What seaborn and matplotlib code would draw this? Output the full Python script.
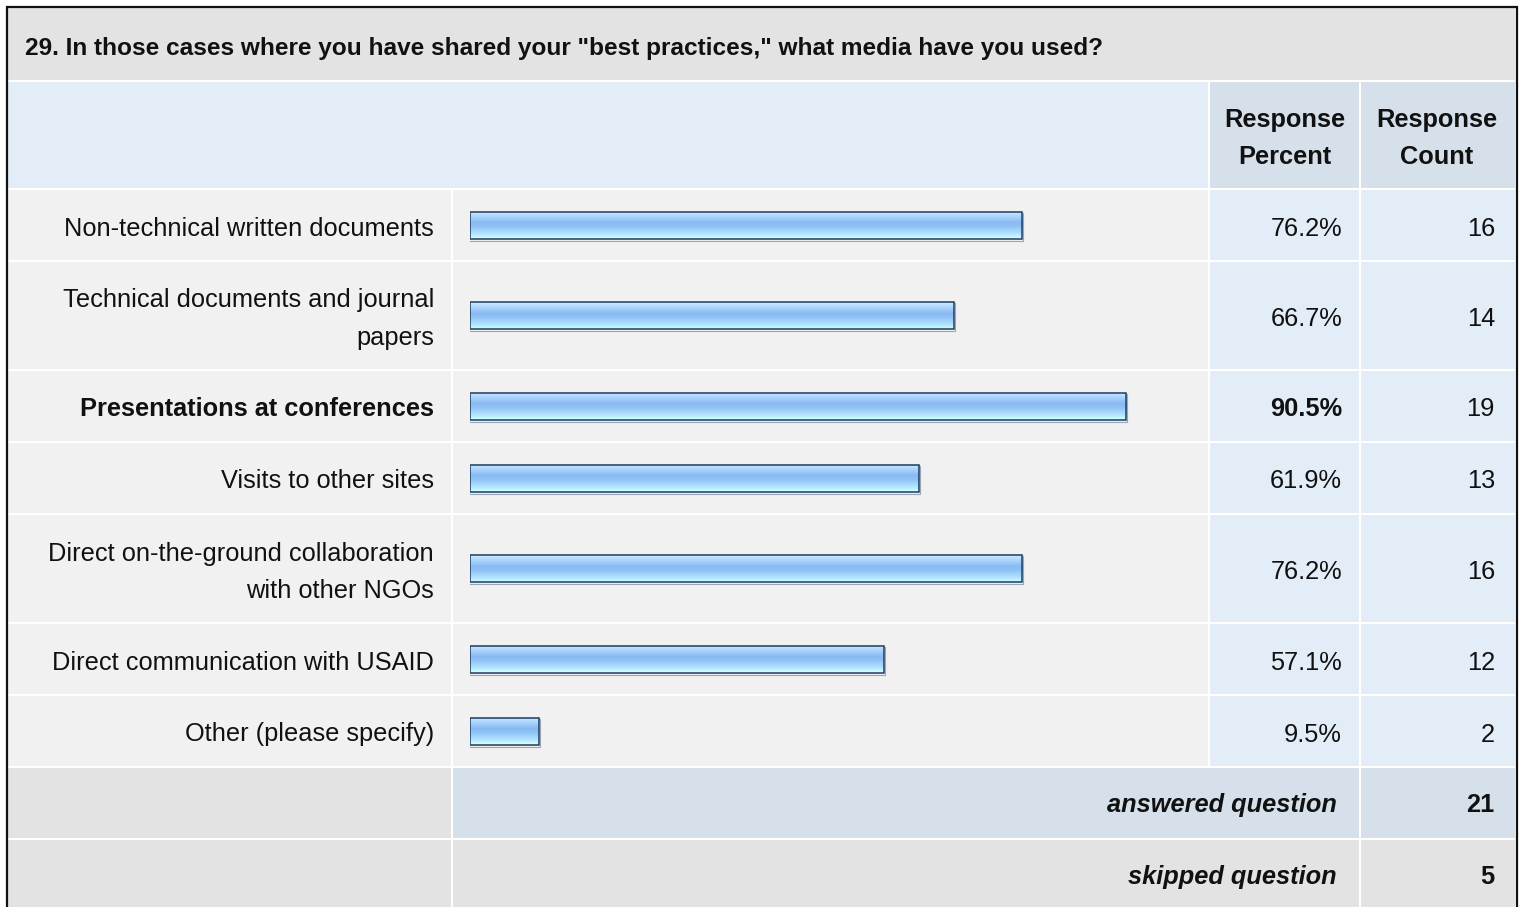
import numpy as np
import pandas as pd
import matplotlib
matplotlib.use('Agg')
import matplotlib.pyplot as plt
import seaborn as sns
from matplotlib.patches import Rectangle
from matplotlib.colors import LinearSegmentedColormap

# data
question = '29. In those cases where you have shared your "best practices," what media have you used?'
answers = ['Non-technical written documents',
           'Technical documents and journal\npapers',
           'Presentations at conferences',
           'Visits to other sites',
           'Direct on-the-ground collaboration\nwith other NGOs',
           'Direct communication with USAID',
           'Other (please specify)']
percent = [76.2, 66.7, 90.5, 61.9, 76.2, 57.1, 9.5]
count = [16, 14, 19, 13, 16, 12, 2]
answered = 21
skipped = 5

sns.set_style('white')
plt.rcParams['font.family'] = ['Liberation Sans', 'DejaVu Sans']

W, H = 1520, 907
fig = plt.figure(figsize=(W / 100, H / 100), dpi=100)
fig.patch.set_facecolor('white')
ax = fig.add_axes([0, 0, 1, 1])
ax.set_xlim(0, W)
ax.set_ylim(H, 0)
ax.axis('off')

GREY = '#e3e3e3'
ROW = '#f1f1f1'
BLUE = '#e3edf7'
BLUE2 = '#d5e0ea'
FS = 18.3
TXT = '#111111'

# column edges
X0, X1, X2, X3, X4 = 8, 452, 1209, 1360, 1515


def cell(x0, x1, y0, y1, color):
    ax.add_patch(Rectangle((x0 + 1, y0 + 1), x1 - x0 - 2, y1 - y0 - 2,
                           facecolor=color, edgecolor='none', zorder=1))


# title row
cell(X0 - 1, X4 + 1, 7, 81, GREY)
ax.text(25, 48, question, fontsize=17.6, fontweight='bold', color=TXT,
        ha='left', va='center', zorder=3)

# header row
cell(X0 - 1, X2, 81, 189, BLUE)
cell(X2, X3, 81, 189, BLUE2)
cell(X3, X4 + 1, 81, 189, BLUE2)
for xc, word in [(1285, 'Percent'), (1437, 'Count')]:
    ax.text(xc, 120, 'Response', fontsize=FS, fontweight='bold', color=TXT,
            ha='center', va='center', zorder=3)
    ax.text(xc, 157, word, fontsize=FS, fontweight='bold', color=TXT,
            ha='center', va='center', zorder=3)

# data rows
nlines = [a.count('\n') + 1 for a in answers]
heights = [72 + 37 * (n - 1) for n in nlines]
tops = 189 + np.concatenate([[0], np.cumsum(heights)[:-1]])
centers = tops + np.array(heights) / 2
best = int(np.argmax(percent))

for i, (a, p, c) in enumerate(zip(answers, percent, count)):
    y0, y1, yc = tops[i], tops[i] + heights[i], centers[i]
    cell(X0 - 1, X1, y0, y1, ROW)
    cell(X1, X2, y0, y1, ROW)
    cell(X2, X3, y0, y1, BLUE)
    cell(X3, X4 + 1, y0, y1, BLUE)
    fw = 'bold' if i == best else 'normal'
    lines = a.split('\n')
    for k, ln in enumerate(lines):
        off = (k - (len(lines) - 1) / 2) * 37
        ax.text(434, yc + off + 3.5, ln, fontsize=FS, fontweight=fw, color=TXT,
                ha='right', va='center', zorder=3)
    ax.text(1342, yc + 3.5, f'{p:.1f}%', fontsize=FS, fontweight=fw, color=TXT,
            ha='right', va='center', zorder=3)
    ax.text(1495, yc + 3.5, f'{c}', fontsize=FS, color=TXT,
            ha='right', va='center', zorder=3)

# footer rows
yb = tops[-1] + heights[-1]
cell(X0 - 1, X1, yb, yb + 72, GREY)
cell(X1, X3, yb, yb + 72, BLUE2)
cell(X3, X4 + 1, yb, yb + 72, BLUE2)
cell(X0 - 1, X1, yb + 72, H + 2, GREY)
cell(X1, X3, yb + 72, H + 2, GREY)
cell(X3, X4 + 1, yb + 72, H + 2, GREY)
for yy, lab, val in [(yb + 38, 'answered question', answered),
                     (yb + 110, 'skipped question', skipped)]:
    ax.text(1337, yy, lab, fontsize=FS, fontweight='bold', style='italic',
            color=TXT, ha='right', va='center', zorder=3)
    ax.text(1494, yy, str(val), fontsize=FS, fontweight='bold', color=TXT,
            ha='right', va='center', zorder=3)

# outer border
ax.plot([6.5, 6.5, 1516.5, 1516.5], [H + 5, 6.5, 6.5, H + 5], color='#111111',
        lw=1.6, zorder=5, solid_joinstyle='miter')

# bars
bax = fig.add_axes([470 / W, 0, 725 / W, 1])
df = pd.DataFrame({'answer': answers, 'percent': percent, 'pos': centers})
sns.barplot(data=df, x='percent', y='pos', orient='h', native_scale=True,
            errorbar=None, color='#8bbcf3', edgecolor='#1d3c60', linewidth=1.1,
            ax=bax, zorder=2)
bax.set_xlim(0, 100)
bax.set_ylim(H, 0)
bax.axis('off')
bax.patch.set_alpha(0)

grad = LinearSegmentedColormap.from_list('bar', [
    (0.0, '#d3eaff'), (0.15, '#b2daff'), (0.42, '#88b9f1'),
    (0.58, '#90c4f6'), (0.85, '#b4e4ff'), (1.0, '#ccffff')])
px = 100 / 725
for p in list(bax.patches):
    yc = p.get_y() + p.get_height() / 2
    p.set_y(yc - 13.5)
    p.set_height(27)
    x0, w = p.get_x(), p.get_width()
    bax.add_patch(Rectangle((x0 - px, yc - 13.5 + 1), w + 2 * px, 27 + 1,
                            facecolor='none', edgecolor='#9aa6b4', lw=0.8,
                            zorder=1.5))
    img = bax.imshow(np.linspace(0, 1, 64).reshape(-1, 1), cmap=grad,
                     aspect='auto', extent=(x0, x0 + w, yc + 13.5, yc - 13.5),
                     origin='upper', zorder=2.5)
    img.set_clip_path(p)
    p.set_facecolor('none')
    p.set_zorder(3)
bax.set_xlim(0, 100)
bax.set_ylim(H, 0)

fig.savefig('out.png', dpi=100, facecolor='white')
